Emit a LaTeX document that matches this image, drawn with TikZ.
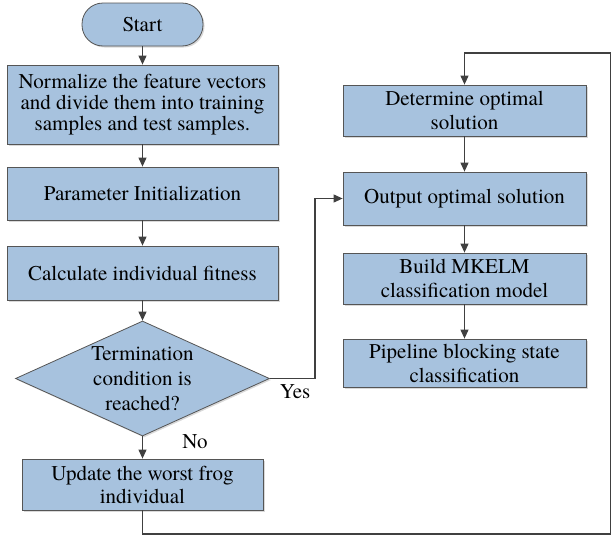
\documentclass[tikz,border=0pt]{standalone}
\usepackage{fontspec}
\setmainfont{TeX Gyre Termes}
\usetikzlibrary{shapes.geometric,arrows.meta,shadows}
\definecolor{boxblue}{RGB}{167,194,222}
\definecolor{edgegray}{RGB}{85,85,85}
\definecolor{linegray}{RGB}{64,64,64}

\begin{document}
\begin{tikzpicture}[x=1pt,y=-1pt,
  procbox/.style={draw=edgegray,line width=0.8pt,fill=boxblue,inner sep=0pt,align=center,
    font=\fontsize{21}{24}\selectfont,
    drop shadow={shadow xshift=1.5pt,shadow yshift=-1.5pt,opacity=0.3}},
  termbox/.style={procbox,rounded corners=21pt},
  decbox/.style={procbox,shape=diamond,aspect=2.2},
  arr/.style={draw=linegray,line width=1.1pt,-{Triangle[length=9pt,width=8pt]}},
  lbl/.style={font=\fontsize{21}{24}\selectfont,inner sep=0pt}]
\path[use as bounding box] (0,0) rectangle (611,536);
% left column
\node[termbox,minimum width=121pt,minimum height=43pt] (start) at (142.5,24.5) {Start};
\node[procbox,minimum width=271pt,minimum height=79pt,font=\fontsize{21}{21}\selectfont] (norm) at (142.5,104.5) {Normalize the feature vectors\\and divide them into training\\samples and test samples.};
\node[procbox,minimum width=271pt,minimum height=53pt] (init) at (142.5,193.5) {Parameter Initialization};
\node[procbox,minimum width=271pt,minimum height=54pt] (fit) at (142.5,273) {Calculate individual fitness};
\node[decbox,minimum width=254pt,minimum height=115pt,font=\fontsize{21}{25}\selectfont] (term) at (142.5,378.5) {Termination\\condition is\\reached?};
\node[procbox,minimum width=241pt,minimum height=51pt,font=\fontsize{21}{23}\selectfont] (upd) at (142.5,484.5) {Update the worst frog\\individual};
% right column
\node[procbox,minimum width=243pt,minimum height=51pt] (det) at (464.5,110.5) {Determine optimal\\solution};
\node[procbox,minimum width=243pt,minimum height=53pt] (out) at (464.5,198.5) {Output optimal solution};
\node[procbox,minimum width=243pt,minimum height=51pt] (elm) at (464.5,278.5) {Build MKELM\\classification model};
\node[procbox,minimum width=243pt,minimum height=48pt] (pipe) at (464.5,363) {Pipeline blocking state\\classification};
% bends
\coordinate (yesbend) at (315,378.5);
\coordinate (loopbr) at (611,534);
\coordinate (looptr) at (611,53);
% connectors
\draw[arr] (start) -- (norm);
\draw[arr] (norm) -- (init);
\draw[arr] (init) -- (fit);
\draw[arr] (fit) -- (term);
\draw[arr] (term) -- (upd);
\draw[arr] (term.east) -- (yesbend) |- (out.west);
\draw[arr] (upd.south) |- (loopbr) -- (looptr) -| (det.north);
\draw[arr] (det) -- (out);
\draw[arr] (out) -- (elm);
\draw[arr] (elm) -- (pipe);
% labels
\node[lbl] (yes) at (295,392) {Yes};
\node[lbl] (no) at (195,442) {No};
\end{tikzpicture}
\end{document}
